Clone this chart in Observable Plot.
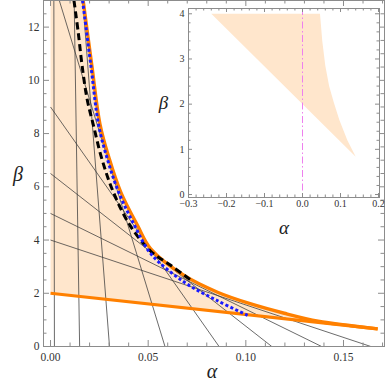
<!DOCTYPE html>
<html><head><meta charset="utf-8">
<script src="https://cdn.jsdelivr.net/npm/d3@7"></script>
<script src="https://cdn.jsdelivr.net/npm/@observablehq/plot@0.6"></script>
<style>
body{margin:0;background:#fff;}
#wrap{position:relative;width:390px;height:382px;overflow:hidden;}
#wrap svg{position:absolute;}
#wrap svg text{font-family:"Liberation Serif","DejaVu Serif",serif;}
</style></head><body><div id="wrap"></div>
<script>
// ---------- data ----------
// upper orange boundary curve
const upperAlpha = [0.0167, 0.0212, 0.0253, 0.0300, 0.0359, 0.0445, 0.0513, 0.0684, 0.0855, 0.1026, 0.1197, 0.1370, 0.1540, 0.1675];
const upperBeta  = [13.0, 10.53, 8.36, 7.07, 5.81, 4.55, 3.67, 2.67, 2.04, 1.60, 1.25, 0.95, 0.78, 0.66];
// lower orange straight boundary
const lowerAlpha = [0.0, 0.1675];
const lowerBeta  = [2.0, 0.66];
// black dashed curve
const blackAlpha = [0.0120, 0.0142, 0.0162, 0.0188, 0.0219, 0.0262, 0.0321, 0.0407, 0.0513, 0.0615, 0.0727];
const blackBeta  = [13.0, 11.79, 10.53, 9.27, 8.33, 7.07, 5.81, 4.55, 3.58, 3.05, 2.45];
// blue dotted curve
const blueAlpha = [0.0164, 0.0207, 0.0246, 0.0290, 0.0348, 0.0430, 0.0513, 0.0684, 0.0855, 0.1009];
const blueBeta  = [13.0, 10.53, 8.33, 7.07, 5.81, 4.55, 3.49, 2.42, 1.72, 1.17];
// thin straight lines: start point and end point
const segAlpha1 = [0.0017, 0.0121, 0.0045, 0.0165, 0.0, 0.0, 0.0, 0.0];
const segBeta1  = [13, 13, 13, 13, 9.0, 6.5, 5.0, 4.0];
const segAlpha2 = [0.0020, 0.0149, 0.0586, 0.0302, 0.0863, 0.1133, 0.1388, 0.1640];
const segBeta2  = [0, 0, 0, 0, 0, 0, 0, 0];
// inset shaded region vertices
const insetAlpha = [-0.24, 0.046, 0.052, 0.060, 0.070, 0.082, 0.097, 0.118, 0.140];
const insetBeta  = [4.0, 4.0, 3.4, 2.85, 2.4, 2.05, 1.65, 1.2, 0.834];
// ticks
const mainXTicks = [0, 0.05, 0.10, 0.15];
const mainYTicks = [0, 2, 4, 6, 8, 10, 12];
const insetXTicks = [-0.3, -0.2, -0.1, 0.0, 0.1, 0.2];
const insetYTicks = [0, 1, 2, 3, 4];

// ---------- styling ----------
const orange = "#ff8000", fillC = "#ffe6cc", frameC = "#8c8c8c", blue = "#1a1aff";
const serif = "Liberation Serif, DejaVu Serif, serif";
const pts = (a, b) => a.map((v, i) => ({a: v, b: b[i]}));
const isMajor = (v, step) => Math.abs(v / step - Math.round(v / step)) < 1e-6;

function frameTicks(xMaj, xMin, yMaj, yMin, pw, ph, lMaj, lMin) {
  const o = {stroke: frameC, strokeWidth: 1};
  return [
    Plot.ruleX(xMaj, {...o, x: d => d, insetTop: ph - lMaj}),
    Plot.ruleX(xMaj, {...o, x: d => d, insetBottom: ph - lMaj}),
    Plot.ruleX(xMin, {...o, x: d => d, insetTop: ph - lMin}),
    Plot.ruleX(xMin, {...o, x: d => d, insetBottom: ph - lMin}),
    Plot.ruleY(yMaj, {...o, y: d => d, insetRight: pw - lMaj}),
    Plot.ruleY(yMaj, {...o, y: d => d, insetLeft: pw - lMaj}),
    Plot.ruleY(yMin, {...o, y: d => d, insetRight: pw - lMin}),
    Plot.ruleY(yMin, {...o, y: d => d, insetLeft: pw - lMin})
  ];
}

// ---------- main plot ----------
const M = {w: 390, h: 382, l: 43, r: 6, t: 0, b: 36};
const mpw = M.w - M.l - M.r, mph = M.h - M.t - M.b;
const mXMin = d3.range(0, 0.1705, 0.01).filter(v => !isMajor(v, 0.05));
const mYMin = d3.range(0, 13.01, 0.5).filter(v => !isMajor(v, 2));
const region = [{a: 0, b: 13}, ...pts(upperAlpha, upperBeta), {a: lowerAlpha[0], b: lowerBeta[0]}];

const main = Plot.plot({
  width: M.w, height: M.h, marginLeft: M.l, marginRight: M.r, marginTop: M.t, marginBottom: M.b,
  x: {domain: [-0.0036, 0.171], label: null},
  y: {domain: [0, 13], label: null},
  style: {fontFamily: serif, fontSize: "11.5px", color: "#333", background: "transparent"},
  marks: [
    Plot.line(region, {x: "a", y: "b", fill: fillC, stroke: "none", clip: true}),
    Plot.link(segAlpha1.map((_, i) => i), {
      x1: i => segAlpha1[i], y1: i => segBeta1[i], x2: i => segAlpha2[i], y2: i => segBeta2[i],
      stroke: "#3a3a3a", strokeWidth: 0.75, clip: true
    }),
    Plot.line(pts(lowerAlpha, lowerBeta), {x: "a", y: "b", stroke: orange, strokeWidth: 3.2, strokeLinecap: "butt", clip: true}),
    Plot.line(pts(upperAlpha, upperBeta), {x: "a", y: "b", stroke: orange, strokeWidth: 3.4, curve: "catmull-rom", strokeLinecap: "butt", clip: true}),
    Plot.line(pts(blackAlpha, blackBeta), {x: "a", y: "b", stroke: "#000", strokeWidth: 3, strokeDasharray: "7,4", curve: "catmull-rom", strokeLinecap: "butt", clip: true}),
    Plot.line(pts(blueAlpha, blueBeta), {x: "a", y: "b", stroke: blue, strokeWidth: 3, strokeDasharray: "3,2.4", curve: "catmull-rom", strokeLinecap: "butt", clip: true}),
    Plot.frame({stroke: frameC}),
    ...frameTicks(mainXTicks, mXMin, mainYTicks, mYMin, mpw, mph, 6, 3.5),
    Plot.axisX(mainXTicks, {anchor: "bottom", label: null, tickSize: 0, tickPadding: 6, tickFormat: d3.format(".2f"), fill: "#333", fontFamily: serif}),
    Plot.axisY(mainYTicks, {anchor: "left", label: null, tickSize: 0, tickPadding: 4, tickFormat: d3.format("d"), fill: "#333", fontFamily: serif}),
    Plot.text(["α"], {frameAnchor: "bottom", dx: -2, dy: 25, fontSize: 20, fontStyle: "italic", fontFamily: serif, fill: "#222", lineAnchor: "middle"}),
    Plot.text(["β"], {frameAnchor: "left", dx: -25.5, dy: 1, fontSize: 20, fontStyle: "italic", fontFamily: serif, fill: "#222", textAnchor: "middle"})
  ]
});

// ---------- inset plot ----------
const I = {w: 240, h: 250, l: 38, r: 11, t: 8, b: 53, left: 150, top: 0};
const ipw = I.w - I.l - I.r, iph = I.h - I.t - I.b;
const iXMin = d3.range(-0.3, 0.2005, 0.02).filter(v => !isMajor(v, 0.1));
const iYMin = d3.range(0, 4.01, 0.2).filter(v => !isMajor(v, 1));

const inset = Plot.plot({
  width: I.w, height: I.h, marginLeft: I.l, marginRight: I.r, marginTop: I.t, marginBottom: I.b,
  x: {domain: [-0.3, 0.2026], label: null},
  y: {domain: [-0.066, 4.117], label: null},
  style: {fontFamily: serif, fontSize: "10px", color: "#333", background: "transparent"},
  marks: [
    Plot.frame({fill: "white", stroke: "none"}),
    Plot.line(pts(insetAlpha, insetBeta), {x: "a", y: "b", fill: fillC, stroke: "none"}),
    Plot.ruleX([0], {stroke: "#ee80ee", strokeWidth: 1, strokeDasharray: "7,2.5,1.5,2.5"}),
    Plot.frame({stroke: frameC}),
    ...frameTicks(insetXTicks, iXMin, insetYTicks, iYMin, ipw, iph, 4, 2.5),
    Plot.axisX(insetXTicks, {anchor: "bottom", label: null, tickSize: 0, tickPadding: 2, tickFormat: d3.format(".1f"), fill: "#333", fontFamily: serif}),
    Plot.axisY(insetYTicks, {anchor: "left", label: null, tickSize: 0, tickPadding: 4, tickFormat: d3.format("d"), fill: "#333", fontFamily: serif}),
    Plot.text(["α"], {frameAnchor: "bottom", dy: 30, fontSize: 19, fontStyle: "italic", fontFamily: serif, fill: "#222", lineAnchor: "middle"}),
    Plot.text(["β"], {frameAnchor: "left", dx: -25, fontSize: 19, fontStyle: "italic", fontFamily: serif, fill: "#222", textAnchor: "middle"})
  ]
});

const wrap = document.getElementById("wrap");
main.style.left = "0px"; main.style.top = "0px";
inset.style.left = I.left + "px"; inset.style.top = I.top + "px";
wrap.appendChild(main);
wrap.appendChild(inset);
</script></body></html>
